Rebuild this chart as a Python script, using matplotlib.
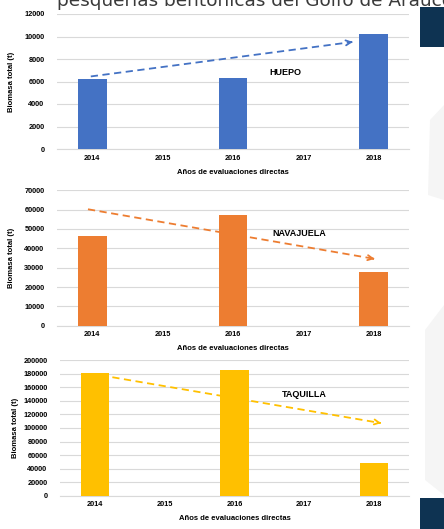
import numpy as np
import matplotlib.pyplot as plt
from matplotlib.patches import Rectangle, Polygon

# data
years = ['2014', '2015', '2016', '2017', '2018']
huepo = [6200, 0, 6300, 0, 10200]
navajuela = [46500, 0, 57000, 0, 27800]
taquilla = [181000, 0, 185500, 0, 49000]

# trend arrows (x index, value) start -> end
huepo_trend = [(-0.02, 6450), (3.74, 9550)]
navajuela_trend = [(-0.06, 60200), (4.05, 34300)]
taquilla_trend = [(0.25, 175000), (4.14, 106500)]

names = ['HUEPO', 'NAVAJUELA', 'TAQUILLA']
name_pos = [(2.75, 6800), (2.94, 47800), (3.0, 149800)]
ymax = [12000, 70000, 200000]
ystep = [2000, 10000, 20000]
colors = ['#4472C4', '#ED7D31', '#FFC000']

W, H = 444, 529
fig = plt.figure(figsize=(W / 100, H / 100), dpi=100)
fig.patch.set_facecolor('white')

# faint slide decorations
fig.patches.append(Polygon([(430 / W, 1 - 120 / H), (444 / W, 1 - 105 / H),
                            (444 / W, 1 - 200 / H), (428 / W, 1 - 195 / H)],
                           closed=True, transform=fig.transFigure,
                           facecolor='#f5f5f5', edgecolor='none', zorder=0))
fig.patches.append(Polygon([(425 / W, 1 - 330 / H), (444 / W, 1 - 305 / H),
                            (444 / W, 1 - 495 / H), (425 / W, 1 - 480 / H)],
                           closed=True, transform=fig.transFigure,
                           facecolor='#f5f5f5', edgecolor='none', zorder=0))
fig.patches.append(Rectangle((420 / W, 1 - 47 / H), 24 / W, 40 / H,
                             transform=fig.transFigure, facecolor='#0e3352',
                             edgecolor='none', zorder=0))
fig.patches.append(Rectangle((420 / W, 0), 24 / W, 31 / H,
                             transform=fig.transFigure, facecolor='#0e3352',
                             edgecolor='none', zorder=0))

# cut-off slide title
fig.text(57 / W, 1 - 6.5 / H, 'pesquerías bentónicas del Golfo de Arauco',
         fontsize=13.3, color='#3a3a3a', family='DejaVu Sans', va='baseline',
         ha='left')

boxes = [
    [57 / W, (H - 149) / H, 352 / W, 135 / H],
    [57 / W, (H - 325.7) / H, 352 / W, 135.4 / H],
    [60 / W, (H - 495.7) / H, 349 / W, 135.4 / H],
]
series = [huepo, navajuela, taquilla]
trends = [huepo_trend, navajuela_trend, taquilla_trend]

for i in range(3):
    ax = fig.add_axes(boxes[i])
    x = np.arange(len(years))
    vals = series[i]
    ax.bar(x, vals, width=0.41, color=colors[i], zorder=3)
    ax.set_xlim(-0.5, 4.5)
    ax.set_ylim(0, ymax[i])
    ax.set_yticks(np.arange(0, ymax[i] + 1, ystep[i]))
    ax.set_xticks(x)
    ax.set_xticklabels(years)
    ax.grid(axis='y', color='#d9d9d9', lw=0.8, zorder=0)
    for s in ['top', 'right', 'left']:
        ax.spines[s].set_visible(False)
    ax.spines['bottom'].set_color('#d9d9d9')
    ax.spines['bottom'].set_linewidth(0.8)
    ax.tick_params(length=0, labelsize=5.3, pad=4)
    ax.tick_params(axis='y', pad=9)
    for lab in ax.get_xticklabels() + ax.get_yticklabels():
        lab.set_fontweight('bold')
        lab.set_family('Liberation Sans')
    ax.set_xlabel('Años de evaluaciones directas', fontsize=5.5,
                  fontweight='bold', family='Liberation Sans', labelpad=5)
    ax.set_ylabel('Biomasa total (t)', fontsize=5.5, fontweight='bold',
                  family='Liberation Sans')
    ax.yaxis.set_label_coords(-0.118, 0.5)

    (x0, y0), (x1, y1) = trends[i]
    ax.plot([x0, x1 - 0.06], [y0, y0 + (y1 - y0) * (1 - 0.06 / (x1 - x0))],
            ls=(0, (4, 2.5)), color=colors[i], lw=1.3, zorder=4)
    ax.annotate('', xy=(x1, y1), xytext=(x1 - 0.1, y0 + (y1 - y0) * (1 - 0.1 / (x1 - x0))),
                arrowprops=dict(arrowstyle='->', color=colors[i], lw=1.3,
                                mutation_scale=9), zorder=4)
    ax.text(name_pos[i][0], name_pos[i][1], names[i], fontsize=6.5,
            fontweight='bold', family='Liberation Sans', ha='center',
            va='center', zorder=5)

fig.savefig('out.png', dpi=100)
